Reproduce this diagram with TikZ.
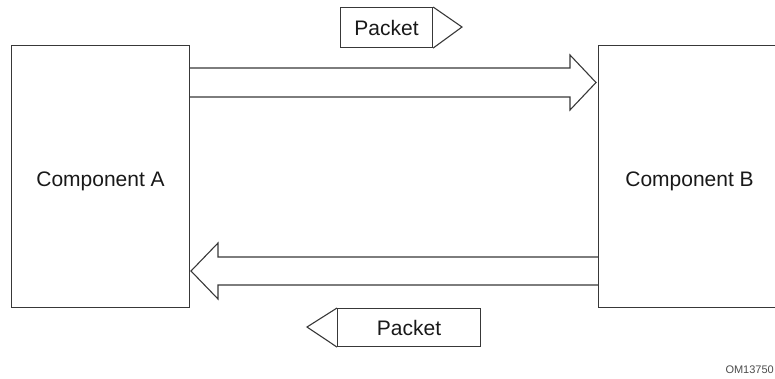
\documentclass[tikz,border=0pt]{standalone}
\usepackage{fontspec}
\setmainfont{Liberation Sans}
\begin{document}
\begin{tikzpicture}[x=1pt,y=-1pt,
  line/.style={draw=black!78,line width=1.1pt,line join=miter},
  compbox/.style={line,inner sep=0pt,anchor=north west,font=\fontsize{21}{24}\selectfont,text=black!90,text height=25pt,text depth=4.4pt},
  pktbox/.style={line,inner sep=0pt,anchor=north west,font=\fontsize{21}{24}\selectfont,text=black!90},
  tag/.style={inner sep=0pt,font=\fontsize{11}{13}\selectfont,text=black!70}]
\useasboundingbox (0,0) rectangle (775,378);
% components
\node[compbox,minimum width=178pt,minimum height=262pt] (A) at (11,45) {Component A};
\node[compbox,minimum width=182pt,minimum height=262pt] (B) at (598,45) {Component B};
% upper arrow A -> B
\coordinate (u1) at (A.east |- 0,68);
\coordinate (u2) at (570,68);
\coordinate (u3) at (570,55);
\coordinate (u4) at (596,82.5);
\coordinate (u5) at (570,110);
\coordinate (u6) at (570,97);
\coordinate (u7) at (A.east |- 0,97);
\draw[line] (u1) -- (u2) -- (u3) -- (u4) -- (u5) -- (u6) -- (u7);
% lower arrow B -> A
\coordinate (l1) at (B.west |- 0,257);
\coordinate (l2) at (218,257);
\coordinate (l3) at (218,243);
\coordinate (l4) at (191,271);
\coordinate (l5) at (218,299);
\coordinate (l6) at (218,285);
\coordinate (l7) at (B.west |- 0,285);
\draw[line] (l1) -- (l2) -- (l3) -- (l4) -- (l5) -- (l6) -- (l7);
% packet labels
\node[pktbox,minimum width=92pt,minimum height=40pt] (P1) at (340,7) {Packet};
\coordinate (P1tip) at (462,27);
\draw[line] (P1.north east) -- (P1tip) -- (P1.south east);
\node[pktbox,minimum width=143pt,minimum height=38pt] (P2) at (337,308) {Packet};
\coordinate (P2tip) at (307,327);
\draw[line] (P2.north west) -- (P2tip) -- (P2.south west);
% figure id
\node[tag,anchor=east] (id) at (774,370) {OM13750};
\end{tikzpicture}
\end{document}
